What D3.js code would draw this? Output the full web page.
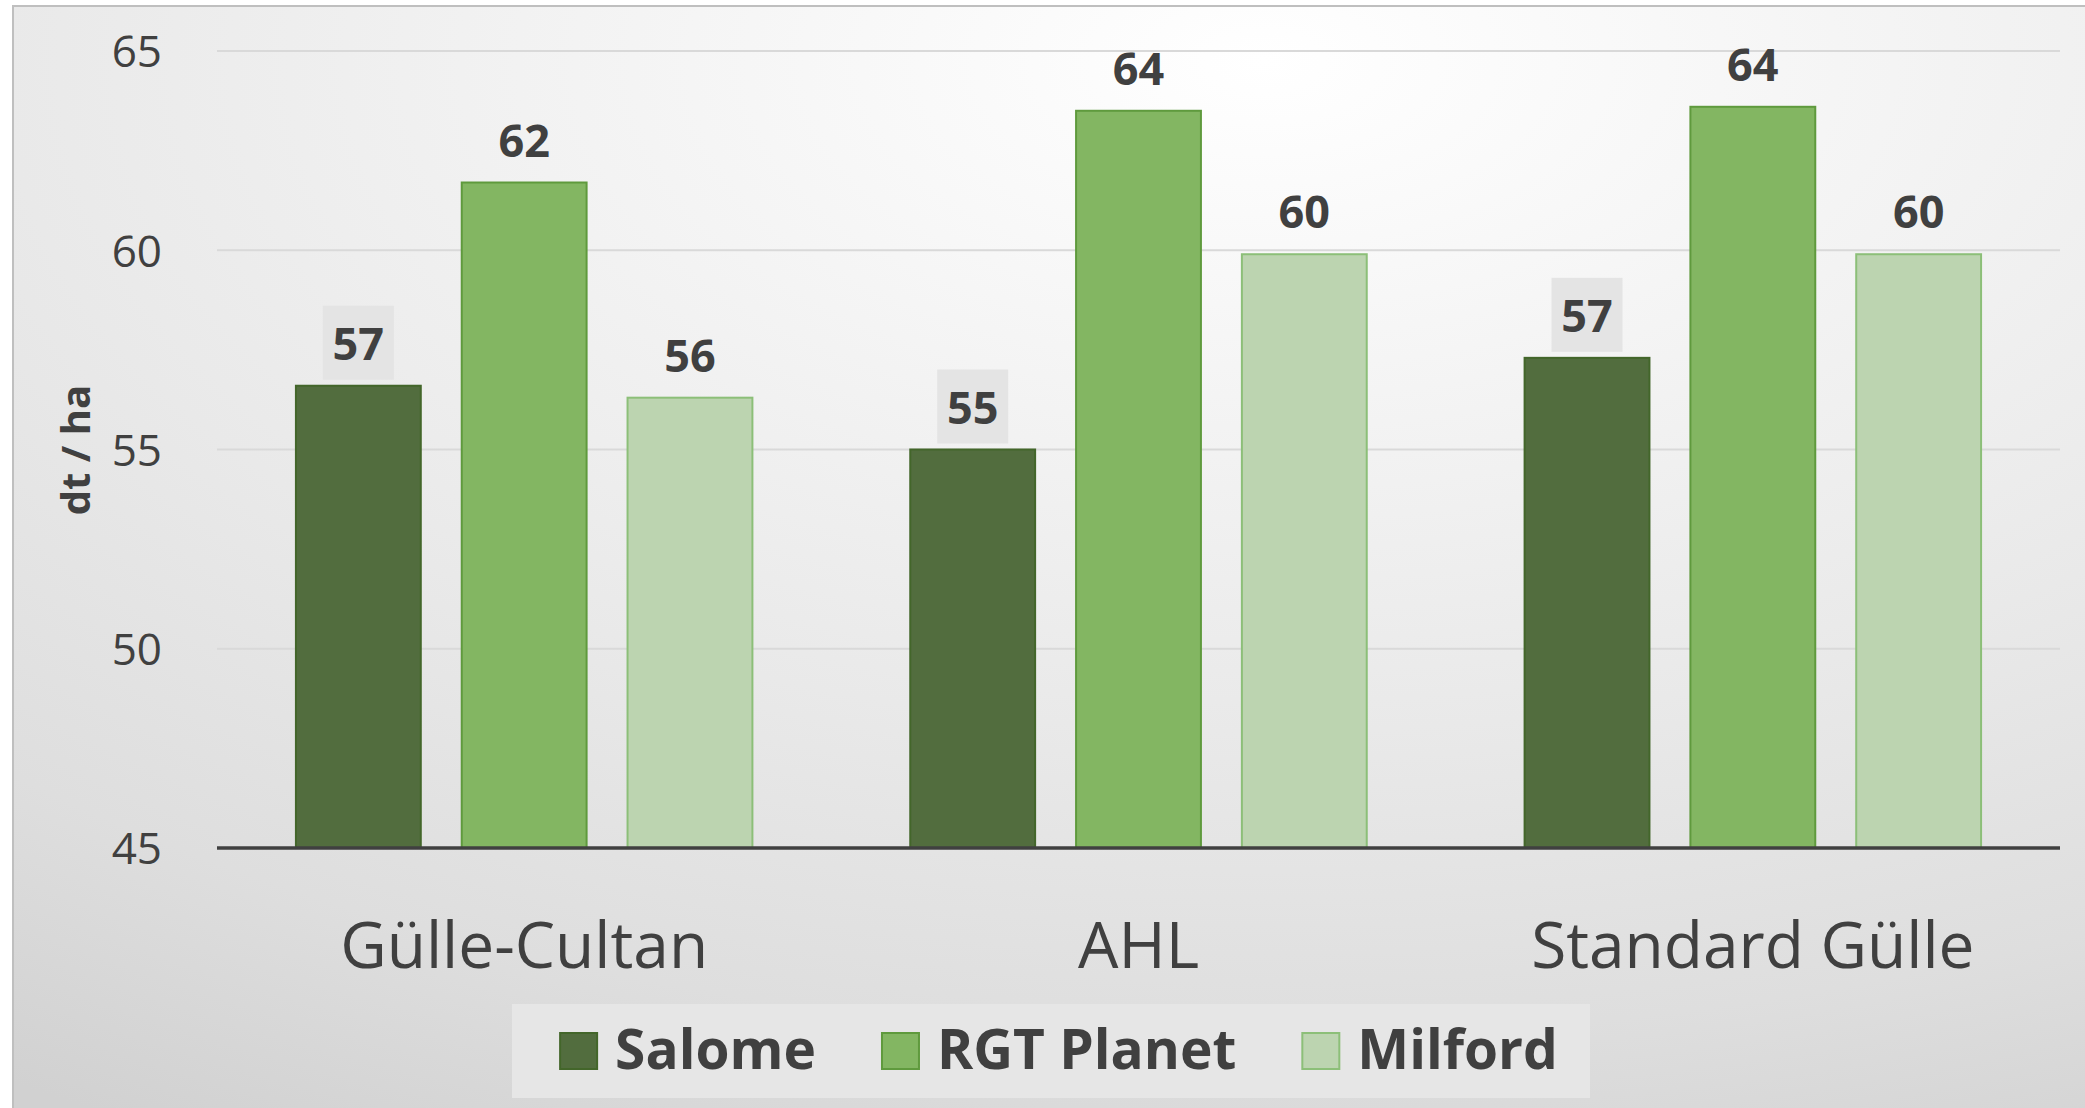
<!DOCTYPE html>
<html>
<head>
<meta charset="utf-8">
<script src="https://cdn.jsdelivr.net/npm/d3@7"></script>
<style>
  html, body { margin: 0; padding: 0; background: #ffffff; }
  svg { display: block; }
  text { font-family: "Open Sans", "Noto Sans", sans-serif; fill: #404040; }
</style>
</head>
<body>
<svg id="chart" width="2085" height="1108"></svg>
<script>
// ---------- DATA ----------
const categories = ["Gülle-Cultan", "AHL", "Standard Gülle"];
const seriesNames = ["Salome", "RGT Planet", "Milford"];
const salome = [56.6, 55.0, 57.3];
const rgtPlanet = [61.7, 63.5, 63.6];
const milford = [56.3, 59.9, 59.9];
const yTicks = [45, 50, 55, 60, 65];
const yTitle = "dt / ha";

const seriesValues = [salome, rgtPlanet, milford];
const fills = ["#526d3e", "#83b662", "#bcd4b0"];
const strokes = ["#43662a", "#5f9a3d", "#8cbf78"];

const svg = d3.select("#chart");
const width = +svg.attr("width");
const height = +svg.attr("height");

// Background
const defs = svg.append("defs");
const bg = defs.append("radialGradient")
  .attr("id", "bg")
  .attr("cx", 0.6).attr("cy", 0.05).attr("r", 1.1);
[[0, "#ffffff"], [0.3, "#f3f3f3"], [0.55, "#e9e9e9"], [0.8, "#dedede"], [1, "#d1d1d1"]]
  .forEach(([o, c]) => bg.append("stop").attr("offset", o).attr("stop-color", c));

svg.append("rect")
  .attr("x", 13).attr("y", 6)
  .attr("width", width).attr("height", height)
  .attr("fill", "url(#bg)")
  .attr("stroke", "#bfbfbf")
  .attr("stroke-width", 2);

// Scales
const x0 = d3.scaleBand()
  .domain(categories)
  .range([217, 2060]);

const x1 = d3.scaleBand()
  .domain(seriesNames)
  .range([0, x0.bandwidth()])
  .paddingInner(0.247)
  .paddingOuter(0.476);

const y = d3.scaleLinear()
  .domain([45, 65])
  .range([848, 51]);

// Gridlines
svg.append("g")
  .selectAll("line")
  .data(yTicks.slice(1))
  .join("line")
  .attr("x1", 217).attr("x2", 2060)
  .attr("y1", d => y(d)).attr("y2", d => y(d))
  .attr("stroke", "#d9d9d9")
  .attr("stroke-width", 2);

// Y axis labels
const yAxis = d3.axisLeft(y).tickValues(yTicks).tickSize(0).tickPadding(0);
const yG = svg.append("g")
  .attr("transform", "translate(162,0)")
  .call(yAxis);
yG.select(".domain").remove();
yG.selectAll("text")
  .attr("x", 0)
  .attr("dy", "0.36em")
  .style("font-family", "'Open Sans', sans-serif")
  .style("font-size", "44px")
  .attr("fill", "#404040");

// Y title
svg.append("text")
  .attr("transform", "translate(90,450) rotate(-90)")
  .attr("text-anchor", "middle")
  .style("font-size", "40px")
  .style("font-weight", "bold")
  .text(yTitle);

// Bars
const rows = categories.map((c, i) => ({
  category: c,
  values: seriesNames.map((s, j) => ({ series: s, idx: j, value: seriesValues[j][i] }))
}));

const groups = svg.append("g")
  .selectAll("g")
  .data(rows)
  .join("g")
  .attr("transform", d => `translate(${x0(d.category)},0)`);

groups.selectAll("rect")
  .data(d => d.values)
  .join("rect")
  .attr("x", d => x1(d.series))
  .attr("width", x1.bandwidth())
  .attr("y", d => y(d.value))
  .attr("height", d => y(45) - y(d.value))
  .attr("fill", d => fills[d.idx])
  .attr("stroke", d => strokes[d.idx])
  .attr("stroke-width", 2);

// Value labels (Salome ones sit on a grey box)
groups.selectAll("rect.lblbox")
  .data(d => d.values.filter(v => v.idx === 0))
  .join("rect")
  .attr("class", "lblbox")
  .attr("x", d => x1(d.series) + x1.bandwidth() / 2 - 35.5)
  .attr("y", d => y(d.value) - 80)
  .attr("width", 71)
  .attr("height", 74)
  .attr("fill", "#e4e4e4");

groups.selectAll("text.val")
  .data(d => d.values)
  .join("text")
  .attr("class", "val")
  .attr("x", d => x1(d.series) + x1.bandwidth() / 2)
  .attr("y", d => y(d.value) - 26)
  .attr("text-anchor", "middle")
  .style("font-size", "45px")
  .style("font-weight", "bold")
  .text(d => Math.round(d.value));

// Axis baseline
svg.append("line")
  .attr("x1", 217).attr("x2", 2060)
  .attr("y1", y(45)).attr("y2", y(45))
  .attr("stroke", "#404040")
  .attr("stroke-width", 3.5);

// Category labels
svg.append("g")
  .selectAll("text")
  .data(categories)
  .join("text")
  .attr("x", d => x0(d) + x0.bandwidth() / 2)
  .attr("y", 968)
  .attr("text-anchor", "middle")
  .style("font-size", "64px")
  .text(d => d);

// ---------- LEGEND ----------
svg.append("rect")
  .attr("x", 512).attr("y", 1004)
  .attr("width", 1078).attr("height", 94)
  .attr("fill", "#e6e6e6");

const legend = svg.append("g");
const items = legend.selectAll("g")
  .data(seriesNames)
  .join("g");

items.append("rect")
  .attr("width", 37).attr("height", 36)
  .attr("y", 1033)
  .attr("fill", (d, i) => fills[i])
  .attr("stroke", (d, i) => strokes[i])
  .attr("stroke-width", 2);

items.append("text")
  .attr("x", 55)
  .attr("y", 1069)
  .style("font-size", "55px")
  .style("font-weight", "bold")
  .text(d => d);

// lay the items out one after another, centred on the legend box
const gap = 66;
const widths = [];
items.each(function () {
  widths.push(55 + this.querySelector("text").getComputedTextLength());
});
const total = d3.sum(widths) + gap * (widths.length - 1);
let cursor = 1059 - total / 2;
items.attr("transform", (d, i) => {
  const t = `translate(${cursor},0)`;
  cursor += widths[i] + gap;
  return t;
});
</script>
</body>
</html>
